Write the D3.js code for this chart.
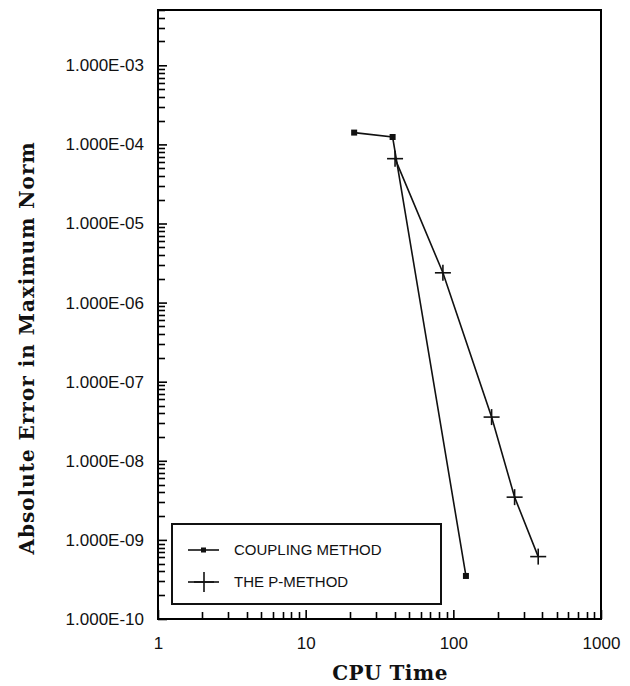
<!DOCTYPE html>
<meta charset="utf-8">
<style>
  body { margin: 0; background: #fff; }
  .tick text { font-family: "Liberation Sans", Arial, sans-serif; font-size: 17px; fill: #111; }
  .title { font-family: "DejaVu Serif", serif; font-weight: bold; font-size: 20px; fill: #111; }
  .legend text { font-family: "Liberation Sans", Arial, sans-serif; font-size: 15px; fill: #111; }
</style>
<svg width="630" height="686"></svg>
<script src="https://d3js.org/d3.v7.min.js"></script>
<script>

// values
var couplingTime  = [21.3, 38.8, 121.7];
var couplingError = [1.41e-4, 1.24e-4, 3.5e-10];

var pTime  = [40.3, 85.0, 181.6, 260, 375.6];
var pError = [6.6e-5, 2.38e-6, 3.57e-8, 3.47e-9, 6.15e-10];

var xTicks = [1, 10, 100, 1000];
var yTicks = [1e-10, 1e-9, 1e-8, 1e-7, 1e-6, 1e-5, 1e-4, 1e-3];
var seriesNames = ["COUPLING METHOD", "THE P-METHOD"];

var svg = d3.select("svg");
var plotL = 158, plotR = 601, plotT = 10, plotB = 619;

var x = d3.scaleLog().domain([1, 1000]).range([plotL, plotR]);
var y = d3.scaleLog().domain([1e-10, 5e-3]).range([plotB, plotT]);

// minor ticks for each decade
function minors(lo, hi) {
  var out = [];
  for (var e = Math.round(Math.log10(lo)); e < Math.log10(hi); e++) {
    for (var k = 2; k <= 9; k++) {
      var v = k * Math.pow(10, e);
      if (v <= hi * 1.0001) out.push(v);
    }
  }
  return out;
}

var ticks = svg.append("g").attr("stroke", "#000").attr("stroke-width", 1.6);

// minor ticks, pointing into the plot
ticks.selectAll("line.xm").data(minors(1, 1000)).enter().append("line")
    .attr("class", "xm")
    .attr("x1", function(d) { return Math.round(x(d)) + 0.5; })
    .attr("x2", function(d) { return Math.round(x(d)) + 0.5; })
    .attr("y1", plotB).attr("y2", plotB - 7);
ticks.selectAll("line.ym").data(minors(1e-10, 5e-3)).enter().append("line")
    .attr("class", "ym")
    .attr("y1", function(d) { return Math.round(y(d)) + 0.5; })
    .attr("y2", function(d) { return Math.round(y(d)) + 0.5; })
    .attr("x1", plotL).attr("x2", plotL + 7);

var xAxis = svg.append("g")
    .attr("transform", "translate(0," + plotB + ")")
    .call(d3.axisBottom(x).tickValues(xTicks).tickFormat(d3.format("d")).tickSizeInner(-9).tickSizeOuter(0).tickPadding(18));
xAxis.select(".domain").remove();
xAxis.selectAll(".tick line").attr("stroke", "#000").attr("stroke-width", 1.6);

var yAxis = svg.append("g")
    .attr("transform", "translate(" + plotL + ",0)")
    .call(d3.axisLeft(y).tickValues(yTicks)
      .tickFormat(function(d) { return "1.000E-" + d3.format("02d")(-Math.round(Math.log10(d))); })
      .tickSizeInner(-9).tickSizeOuter(0).tickPadding(14));
yAxis.select(".domain").remove();
yAxis.selectAll(".tick line").attr("stroke", "#000").attr("stroke-width", 1.6);

// plot frame
svg.append("rect")
    .attr("x", plotL).attr("y", plotT)
    .attr("width", plotR - plotL).attr("height", plotB - plotT)
    .attr("fill", "none").attr("stroke", "#000").attr("stroke-width", 2);

// series
var line = d3.line().x(function(d) { return x(d[0]); }).y(function(d) { return y(d[1]); });
var coupling = d3.zip(couplingTime, couplingError);
var pmethod = d3.zip(pTime, pError);

svg.append("path").datum(coupling).attr("d", line)
    .attr("fill", "none").attr("stroke", "#111").attr("stroke-width", 1.6);
svg.append("path").datum(pmethod).attr("d", line)
    .attr("fill", "none").attr("stroke", "#111").attr("stroke-width", 1.6);

svg.selectAll("rect.sq").data(coupling).enter().append("rect")
    .attr("class", "sq")
    .attr("x", function(d) { return x(d[0]) - 3; })
    .attr("y", function(d) { return y(d[1]) - 3; })
    .attr("width", 6).attr("height", 6).attr("fill", "#111");

function cross(sel, cx, cy, s) {
  sel.append("line").attr("x1", cx - s).attr("x2", cx + s).attr("y1", cy).attr("y2", cy)
     .attr("stroke", "#111").attr("stroke-width", 1.6);
  sel.append("line").attr("x1", cx).attr("x2", cx).attr("y1", cy - s).attr("y2", cy + s)
     .attr("stroke", "#111").attr("stroke-width", 1.6);
}
var crosses = svg.append("g");
pmethod.forEach(function(d) { cross(crosses, x(d[0]), y(d[1]), 8); });

// legend
var lg = svg.append("g").attr("class", "legend");
lg.append("rect").attr("x", 172).attr("y", 524).attr("width", 269).attr("height", 80)
    .attr("fill", "#fff").attr("stroke", "#111").attr("stroke-width", 2);
seriesNames.forEach(function(name, i) {
  var ly = 550 + i * 32;
  lg.append("line").attr("x1", 188).attr("x2", 219).attr("y1", ly).attr("y2", ly)
      .attr("stroke", "#111").attr("stroke-width", 1.6);
  if (i === 0) {
    lg.append("rect").attr("x", 201).attr("y", ly - 2.5).attr("width", 5).attr("height", 5).attr("fill", "#111");
  } else {
    cross(lg, 204, ly, 10);
  }
  lg.append("text").attr("x", 234).attr("y", ly).attr("dy", "0.35em").text(name);
});

// axis titles
svg.append("text").attr("class", "title")
    .attr("x", 390).attr("y", 680).attr("text-anchor", "middle")
    .style("letter-spacing", "0.5px")
    .text("CPU Time");
svg.append("text").attr("class", "title")
    .attr("transform", "translate(34,348) rotate(-90)")
    .attr("text-anchor", "middle")
    .style("letter-spacing", "1px")
    .text("Absolute Error in Maximum Norm");

</script>
